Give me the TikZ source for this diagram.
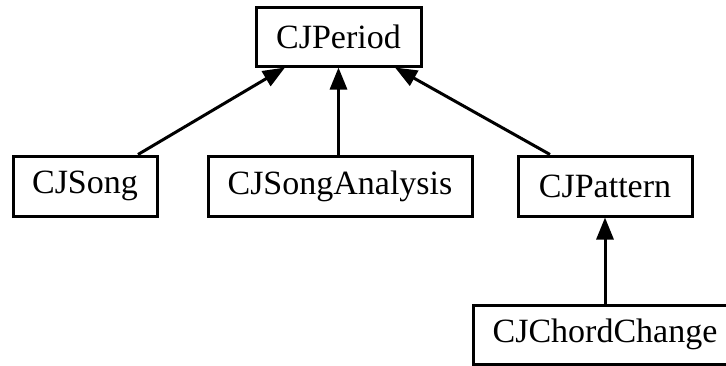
\documentclass[tikz,border=0pt]{standalone}
\usepackage{fontspec}
\setmainfont{Liberation Serif}
\usetikzlibrary{arrows.meta}
\begin{document}
\begin{tikzpicture}[x=1pt,y=-1pt,
  cls/.style={draw=black, line width=3pt, fill=white, inner sep=0pt,
    minimum height=59pt, font=\fontsize{34}{40}\selectfont},
  arr/.style={line width=3pt, -{Triangle[length=22pt,width=17pt]}}]
\useasboundingbox (0,0) rectangle (726,365);
\node[cls, minimum width=165pt] (period) at (338.5,36.5) {CJPeriod};
\node[cls, minimum width=144pt, minimum height=60pt] (song) at (85,186) {CJSong};
\node[cls, minimum width=264pt, minimum height=60pt] (analysis) at (340,186) {CJSongAnalysis};
\node[cls, minimum width=174pt, minimum height=60pt] (pattern) at (605,186) {CJPattern};
\node[cls, minimum width=264pt] (chord) at (605,334.5) {CJChordChange};
\draw[arr] ([xshift=53pt]song.north) -- ([xshift=-53.5pt]period.south);
\draw[arr] (analysis.north -| period.south) -- (period.south);
\draw[arr] ([xshift=-55pt]pattern.north) -- ([xshift=56.5pt]period.south);
\draw[arr] (chord.north) -- (pattern.south);
\end{tikzpicture}
\end{document}
